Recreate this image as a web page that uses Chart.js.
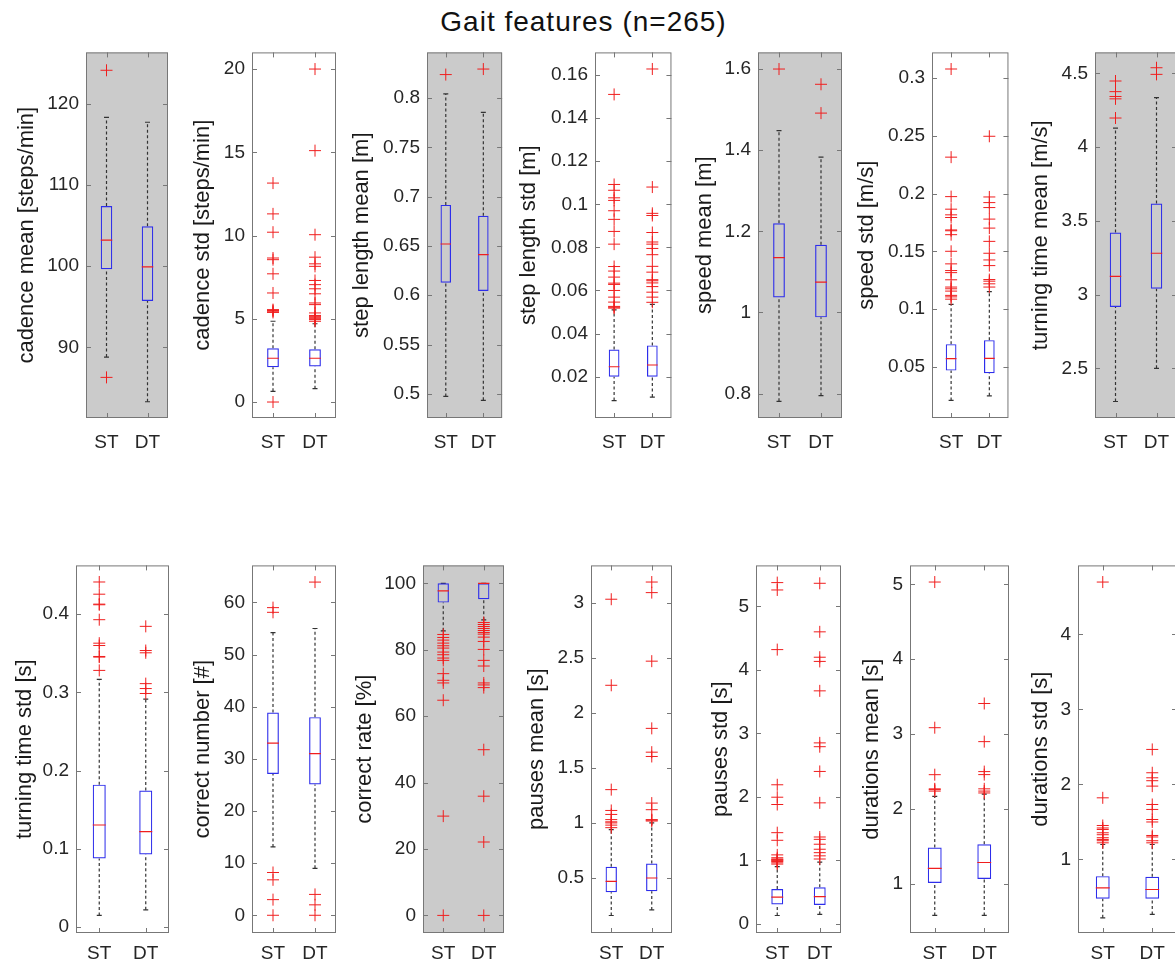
<!DOCTYPE html>
<html>
<head>
<meta charset="utf-8">
<script src="https://cdn.jsdelivr.net/npm/chart.js@4.4.1/dist/chart.umd.min.js"></script>
<style>
  body { margin: 0; background: #fff; width: 1175px; height: 966px; overflow: hidden; position: relative;
         font-family: "Liberation Sans", Arial, sans-serif; }
  #title { position: absolute; left: 0; width: 1167px; top: 6px; line-height: 32px; text-align: center;
           font-size: 28px; letter-spacing: 1px; color: #111; }
  canvas { position: absolute; }
</style>
</head>
<body>
<div id="title">Gait features (n=265)</div>
<script>
// groups on the x axis
const categories = ['ST', 'DT'];

const featureLabels = [
  'cadence mean [steps/min]', 'cadence std [steps/min]', 'step length mean [m]', 'step length std [m]',
  'speed mean [m]', 'speed std [m/s]', 'turning time mean [m/s]',
  'turning time std [s]', 'correct number [#]', 'correct rate [%]', 'pauses mean [s]',
  'pauses std [s]', 'durations mean [s]', 'durations std [s]'
];

// box statistics, [ST, DT] per feature
const q1 = [[99.6, 95.7], [2.09, 2.13], [0.6127, 0.6043], [0.020, 0.020], [1.037, 0.988], [0.0466, 0.0443], [2.916, 3.039],
            [0.0876, 0.0927], [27.1, 25.1], [94.2, 95.2], [0.371, 0.38], [0.303, 0.297], [1.013, 1.066], [0.476, 0.476]];
const median = [[103.2, 99.9], [2.63, 2.63], [0.652, 0.6413], [0.0246, 0.0254], [1.135, 1.075], [0.0569, 0.0572], [3.123, 3.28],
                [0.1304, 0.1219], [33.0, 31.0], [97.7, 100], [0.47, 0.5], [0.418, 0.428], [1.208, 1.287], [0.622, 0.6]];
const q3 = [[107.4, 104.9], [3.23, 3.17], [0.6917, 0.6806], [0.0326, 0.0345], [1.22, 1.167], [0.0695, 0.073], [3.421, 3.617],
            [0.182, 0.1744], [38.9, 38.0], [100, 100], [0.602, 0.632], [0.548, 0.574], [1.486, 1.53], [0.778, 0.769]];
const whiskerLow = [[88.8, 83.3], [0.64, 0.8], [0.4973, 0.4933], [0.0089, 0.0105], [0.781, 0.795], [0.0207, 0.0247], [2.275, 2.5],
                    [0.0148, 0.022], [13.1, 9.0], [85.7, 89.0], [0.16, 0.21], [0.13, 0.146], [0.58, 0.58], [0.222, 0.267]];
const whiskerHigh = [[118.3, 117.7], [4.85, 4.7], [0.8044, 0.7856], [0.051, 0.0535], [1.448, 1.383], [0.104, 0.115], [4.129, 4.336],
                     [0.3166, 0.2912], [54.2, 55.0], [100, 100], [0.94, 1.0], [0.9, 0.97], [2.17, 2.2], [1.2, 1.2]];

// outliers per feature
const outliersST = [
  [124.1, 86.3],
  [0, 5.38, 5.45, 5.5, 5.55, 6.55, 7.7, 8.55, 8.65, 10.2, 11.3, 13.15],
  [0.824],
  [0.0518, 0.0522, 0.0526, 0.0546, 0.0569, 0.06, 0.0628, 0.0634, 0.0662, 0.069, 0.0711, 0.0815, 0.0874, 0.093, 0.097, 0.1018, 0.103, 0.1065, 0.1092, 0.151],
  [1.6],
  [0.1085, 0.1105, 0.1118, 0.1155, 0.1175, 0.119, 0.1253, 0.1315, 0.1333, 0.1391, 0.15, 0.1644, 0.1678, 0.1685, 0.1793, 0.1816, 0.1865, 0.1974, 0.2316, 0.308],
  [4.448, 4.376, 4.343, 4.327, 4.197],
  [0.441, 0.4254, 0.4127, 0.4119, 0.3928, 0.3628, 0.3598, 0.3458, 0.345, 0.328],
  [59.0, 58.1, 8.2, 6.8, 3.0, 0],
  [84.6, 83.7, 82.9, 82.0, 81.2, 80.5, 79.3, 78.5, 77.5, 76.8, 72.8, 70.8, 70.0, 64.8, 29.9, 0],
  [0.957, 0.98, 1.0, 1.01, 1.03, 1.077, 1.113, 1.302, 2.249, 3.03],
  [0.94, 0.96, 0.98, 0.99, 1.0, 1.01, 1.02, 1.04, 1.085, 1.315, 1.435, 1.879, 1.994, 2.19, 4.32, 5.26, 5.376],
  [2.24, 2.26, 2.27, 2.459, 3.086, 5.03],
  [1.222, 1.25, 1.267, 1.29, 1.33, 1.356, 1.4, 1.42, 1.453, 1.822, 4.698]
];
const outliersDT = [
  [],
  [4.85, 4.95, 5.0, 5.05, 5.1, 5.15, 5.2, 5.35, 5.85, 5.95, 6.5, 6.8, 7.05, 7.3, 8.15, 8.3, 8.7, 10.05, 15.1, 20.0],
  [0.8296],
  [0.0545, 0.0569, 0.0592, 0.0618, 0.0635, 0.0645, 0.065, 0.0685, 0.0712, 0.0766, 0.0795, 0.0815, 0.0825, 0.0869, 0.0948, 0.0958, 0.108, 0.1628],
  [1.5624, 1.4914],
  [0.119, 0.1218, 0.1241, 0.1255, 0.1376, 0.1425, 0.1483, 0.1586, 0.1701, 0.1779, 0.1879, 0.1922, 0.1971, 0.2497],
  [4.538, 4.493],
  [0.3843, 0.3534, 0.3505, 0.3111, 0.3048, 0.2985],
  [63.9, 4.0, 2.0, 0],
  [88.2, 87.6, 87.0, 86.4, 85.8, 85.2, 84.7, 83.8, 82.5, 80.1, 76.8, 75.1, 70.0, 69.4, 68.6, 49.9, 35.9, 22.1, 0],
  [1.017, 1.025, 1.03, 1.12, 1.18, 1.603, 1.642, 1.858, 2.468, 3.09, 3.186],
  [1.02, 1.07, 1.12, 1.174, 1.253, 1.33, 1.367, 1.905, 2.4, 2.79, 2.85, 3.67, 4.134, 4.2, 4.6, 5.365],
  [2.215, 2.24, 2.27, 2.46, 2.5, 2.9, 3.409],
  [1.222, 1.25, 1.30, 1.32, 1.5, 1.533, 1.667, 1.733, 1.978, 2.05, 2.089, 2.156, 2.467]
];

// y axis limits and tick labels
const yRange = [[81.3, 126.3], [-0.96, 21.0], [0.4754, 0.8465], [0.0008, 0.1705], [0.740, 1.641], [0.0055, 0.3224], [2.163, 4.642],
                [-0.0076, 0.4622], [-3.4, 67.1], [-5.3, 105.4], [0.001, 3.337], [-0.146, 5.647], [0.346, 5.252], [0.02, 4.92]];
const yTicks = [
  [90, 100, 110, 120], [0, 5, 10, 15, 20], [0.5, 0.55, 0.6, 0.65, 0.7, 0.75, 0.8],
  [0.02, 0.04, 0.06, 0.08, 0.1, 0.12, 0.14, 0.16], [0.8, 1, 1.2, 1.4, 1.6], [0.05, 0.1, 0.15, 0.2, 0.25, 0.3],
  [2.5, 3, 3.5, 4, 4.5], [0, 0.1, 0.2, 0.3, 0.4], [0, 10, 20, 30, 40, 50, 60], [0, 20, 40, 60, 80, 100],
  [0.5, 1, 1.5, 2, 2.5, 3], [0, 1, 2, 3, 4, 5], [1, 2, 3, 4, 5], [1, 2, 3, 4]
];

// page layout (pixels)
const plotX = [[86, 168], [252, 336], [427, 503], [595, 672], [758, 842], [932, 1009], [1095, 1177],
               [76, 169], [252, 336], [423, 504], [591, 672], [756, 841], [910, 1009], [1078, 1177]];
const labelX = [27, 203, 362, 529, 705, 867, 1041, 25, 203, 365, 537, 721, 872, 1041];
const rowY = [[50, 418], [563, 933]];
const grayPanels = [0, 2, 4, 6, 9];

const FONT = '"Liberation Sans", Arial, sans-serif';
const BLUE = 'rgb(45,45,235)';
const RED = 'rgb(240,30,30)';
const AXIS = '#777';
const PAD_TOP = 16, PAD_RIGHT = 8, X_AXIS_H = 44;
const TITLE_SIZE = 22;

const fmt = v => String(Number(v.toFixed(4)));

const frame = {
  id: 'frame',
  beforeDatasetsDraw(chart, args, opts) {
    if (!opts.shaded) return;
    const a = chart.chartArea, ctx = chart.ctx;
    ctx.save();
    ctx.fillStyle = '#cbcbcb';
    ctx.fillRect(a.left, a.top, a.right - a.left, a.bottom - a.top);
    ctx.restore();
  },
  afterDraw(chart) {
    const a = chart.chartArea, ctx = chart.ctx;
    const xs = chart.scales.x, ys = chart.scales.y;
    ctx.save();
    ctx.strokeStyle = AXIS;
    ctx.lineWidth = 1;
    ctx.strokeRect(a.left + 0.5, a.top + 0.5, a.right - a.left - 1, a.bottom - a.top - 1);
    ctx.beginPath();
    ys.ticks.forEach(t => {
      const y = Math.round(ys.getPixelForValue(t.value)) + 0.5;
      ctx.moveTo(a.left, y); ctx.lineTo(a.left + 5, y);
      ctx.moveTo(a.right, y); ctx.lineTo(a.right - 5, y);
    });
    xs.ticks.forEach(t => {
      const x = Math.round(xs.getPixelForValue(t.value)) + 0.5;
      ctx.moveTo(x, a.bottom); ctx.lineTo(x, a.bottom - 5);
      ctx.moveTo(x, a.top); ctx.lineTo(x, a.top + 5);
    });
    ctx.stroke();
    ctx.restore();
  }
};

featureLabels.forEach((label, i) => {
  const row = i < 7 ? 0 : 1;
  const [left, right] = plotX[i];
  const [top, bottom] = rowY[row];
  const canvasLeft = Math.round(labelX[i] - TITLE_SIZE * 1.2 / 2);
  const yAxisW = left - canvasLeft;

  const canvas = document.createElement('canvas');
  canvas.width = right - canvasLeft + PAD_RIGHT;
  canvas.height = PAD_TOP + (bottom - top) + X_AXIS_H;
  canvas.style.left = canvasLeft + 'px';
  canvas.style.top = (top - PAD_TOP) + 'px';
  document.body.appendChild(canvas);

  const whiskers = [], caps = [], medians = [], outliers = [];
  categories.forEach((c, k) => {
    const x = k + 1;
    whiskers.push({x, y: whiskerLow[i][k]}, {x, y: q1[i][k]}, {x, y: null},
                  {x, y: q3[i][k]}, {x, y: whiskerHigh[i][k]}, {x, y: null});
    caps.push({x, y: whiskerLow[i][k]}, {x, y: whiskerHigh[i][k]});
    medians.push({x, y: median[i][k]});
    (k === 0 ? outliersST : outliersDT)[i].forEach(v => outliers.push({x, y: v}));
  });

  const halfBox = ctx => {
    const s = ctx.chart.scales.x;
    return Math.abs(s.getPixelForValue(2) - s.getPixelForValue(1)) * 0.14;
  };

  new Chart(canvas, {
    type: 'scatter',
    data: {
      datasets: [
        {
          type: 'bar',
          data: categories.map((c, k) => ({x: k + 1, y: [q1[i][k], q3[i][k]]})),
          backgroundColor: 'rgba(0,0,0,0)', borderColor: BLUE, borderWidth: 1.2,
          borderSkipped: false, barPercentage: 0.28, categoryPercentage: 1, grouped: false, order: 2
        },
        {
          type: 'line', data: whiskers, borderColor: '#333', borderWidth: 1.2, borderDash: [3, 2.5],
          pointRadius: 0, spanGaps: false, fill: false, order: 3
        },
        { data: caps, pointStyle: 'line', radius: 2.5, borderColor: '#333', borderWidth: 1.2, order: 3 },
        { data: medians, pointStyle: 'line', radius: halfBox, borderColor: RED, borderWidth: 1.2, order: 1 },
        { data: outliers, pointStyle: 'cross', radius: 6, borderColor: RED, borderWidth: 1, order: 0 }
      ]
    },
    options: {
      responsive: false,
      animation: false,
      devicePixelRatio: 1,
      events: [],
      layout: { padding: { top: PAD_TOP, right: PAD_RIGHT, left: 0, bottom: 0 } },
      plugins: { legend: { display: false }, tooltip: { enabled: false }, frame: { shaded: grayPanels.includes(i) } },
      scales: {
        x: {
          type: 'linear', min: 0.5, max: 2.5, offset: false,
          afterBuildTicks: s => { s.ticks = categories.map((c, k) => ({value: k + 1})); },
          afterFit: s => { s.height = X_AXIS_H; },
          grid: { display: false, drawTicks: false, offset: false }, border: { display: false },
          ticks: { autoSkip: false, maxRotation: 0, padding: row === 0 ? 13 : 9, color: '#262626',
                   font: { size: 19, family: FONT }, callback: v => categories[Math.round(v) - 1] }
        },
        y: {
          type: 'linear', min: yRange[i][0], max: yRange[i][1], beginAtZero: false,
          afterBuildTicks: s => { s.ticks = yTicks[i].map(v => ({value: v})); },
          afterFit: s => { s.width = yAxisW; },
          grid: { display: false, drawTicks: false }, border: { display: false },
          ticks: { padding: 7, color: '#262626', font: { size: 19, family: FONT }, callback: v => fmt(v) },
          title: { display: true, text: label, padding: 0, color: '#1a1a1a', font: { size: TITLE_SIZE, family: FONT } }
        }
      }
    },
    plugins: [frame]
  });
});
</script>
</body>
</html>
